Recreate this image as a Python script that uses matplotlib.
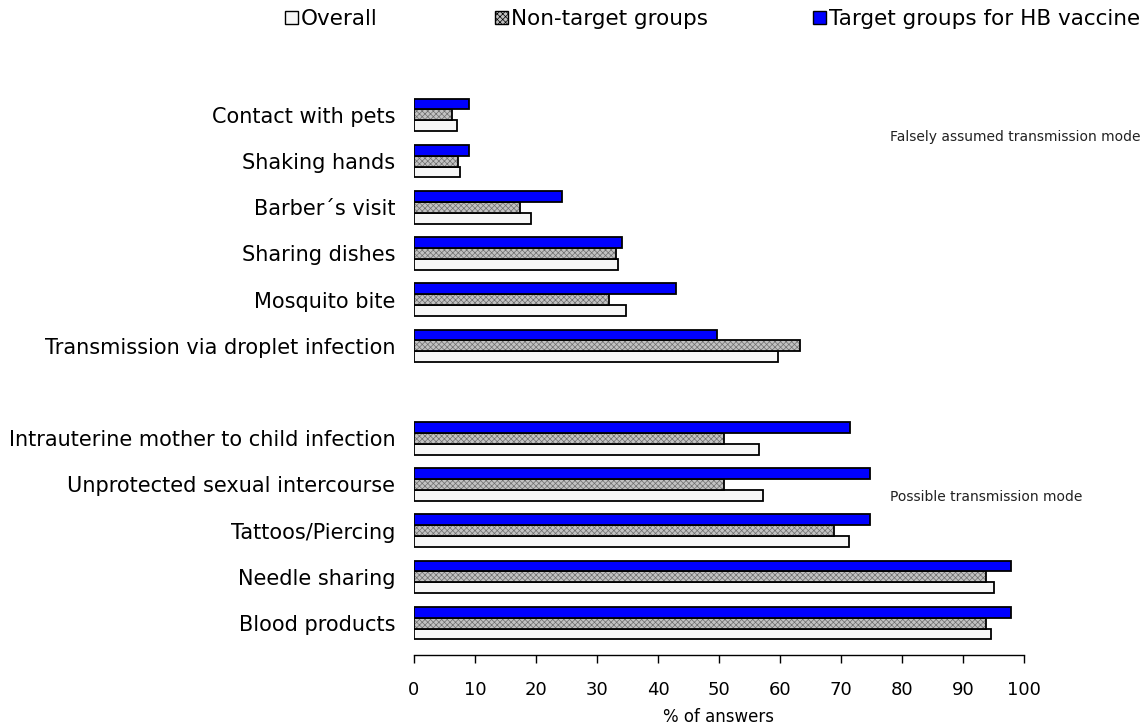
import numpy as np
import matplotlib.pyplot as plt
from matplotlib.patches import Patch

plt.rcParams['font.family'] = ['DejaVu Sans']
plt.rcParams['hatch.linewidth'] = 0.5

# data (% of answers)
categories = ["Contact with pets", "Shaking hands", "Barber\u00b4s visit", "Sharing dishes",
              "Mosquito bite", "Transmission via droplet infection", "",
              "Intrauterine mother to child infection", "Unprotected sexual intercourse",
              "Tattoos/Piercing", "Needle sharing", "Blood products"]
overall = [7.0, 7.6, 19.2, 33.4, 34.8, 59.6, np.nan, 56.5, 57.2, 71.3, 95.0, 94.6]
non_target = [6.3, 7.2, 17.4, 33.1, 32.0, 63.2, np.nan, 50.8, 50.8, 68.9, 93.8, 93.8]
target = [9.0, 9.0, 24.3, 34.1, 42.9, 49.6, np.nan, 71.5, 74.7, 74.7, 97.9, 97.9]
xticks = list(range(0, 101, 10))
series = ['Overall', 'Non-target groups', 'Target groups for HB vaccine']

fig = plt.figure(figsize=(11.48, 7.25), dpi=100)
ax = fig.add_axes([0.3606, 0.0966, 0.5314, 0.7959])

n = len(categories)
y = np.arange(n)[::-1].astype(float)
h = 0.235
lw = 1.3

# overall: white bars
ax.barh(y - h, overall, height=h, color='#f7f7f7', edgecolor='black', linewidth=lw)
# non-target: fine grey texture, then black outline
ax.barh(y, non_target, height=h, color='#c2c2c2', edgecolor='#6e6e6e', linewidth=0,
        hatch='xxxxxx')
ax.barh(y, non_target, height=h, fill=False, edgecolor='black', linewidth=lw)
# target groups
ax.barh(y + h, target, height=h, color='#0000ff', edgecolor='black', linewidth=lw)

ax.set_xlim(0, 100)
ax.set_ylim(-0.69, n - 1 + 0.8)
ax.set_xticks(xticks)
ax.set_xticklabels([str(t) for t in xticks], fontsize=13)
ax.set_yticks(y)
ax.set_yticklabels(categories, fontsize=15)
ax.tick_params(axis='y', length=0, pad=13.5)
ax.tick_params(axis='x', direction='out', length=6, width=1, pad=13)
for s in ['top', 'right', 'left']:
    ax.spines[s].set_visible(False)
ax.spines['bottom'].set_linewidth(1)
ax.set_xlabel('% of answers', fontsize=12, labelpad=6)

fig.text(0.7755, 0.806, 'Falsely assumed transmission mode', fontsize=10, color='#222222')
fig.text(0.7755, 0.309, 'Possible transmission mode', fontsize=10, color='#222222')

# legend, one entry per legend so each sits where the reference puts it
handles = [Patch(facecolor='#f7f7f7', edgecolor='black', linewidth=1),
           Patch(facecolor='#c2c2c2', edgecolor='black', linewidth=1, hatch='xxxxxx'),
           Patch(facecolor='#0000ff', edgecolor='black', linewidth=1)]
leg_x = [285, 495, 813]
for hd, lab, lx in zip(handles, series, leg_x):
    fig.legend([hd], [lab], loc='center left', bbox_to_anchor=(lx / 1148, 1 - 19 / 725),
               frameon=False, fontsize=15.5, handlelength=0.6, handleheight=0.6,
               handletextpad=0.15, borderpad=0, borderaxespad=0)

fig.savefig('out.png', dpi=100)
